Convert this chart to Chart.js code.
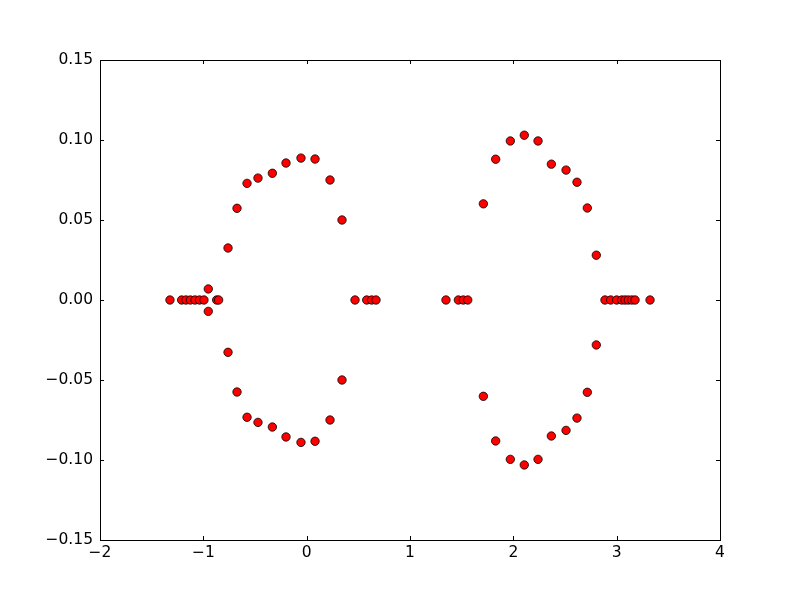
<!DOCTYPE html>
<html>
<head>
<meta charset="utf-8">
<script src="https://cdn.jsdelivr.net/npm/chart.js@4"></script>
<style>
html,body{margin:0;padding:0;background:#fff;}
#wrap{width:800px;height:600px;}
</style>
</head>
<body>
<div id="wrap"><canvas id="c" width="800" height="600"></canvas></div>
<script>
const xValues = [
  -1.323, -1.210, -1.168, -1.125, -1.081, -1.037, -0.994, -0.871, -0.852,
  -0.952, -0.952,
  -0.761, -0.674, -0.577, -0.471, -0.332, -0.200, -0.055, 0.081, 0.226, 0.342,
  -0.761, -0.674, -0.577, -0.471, -0.332, -0.200, -0.055, 0.081, 0.226, 0.342,
  0.468, 0.581, 0.629, 0.671,
  1.348, 1.468, 1.516, 1.559,
  1.710, 1.829, 1.971, 2.106, 2.239, 2.368, 2.510, 2.616, 2.716, 2.803,
  1.710, 1.829, 1.971, 2.106, 2.239, 2.368, 2.510, 2.616, 2.716, 2.803,
  2.887, 2.942, 3.000, 3.049, 3.081, 3.113, 3.146, 3.178, 3.323
];
const yValues = [
  0, 0, 0, 0, 0, 0, 0, 0, 0,
  0.0069, -0.0071,
  0.0325, 0.0573, 0.0729, 0.0762, 0.0792, 0.0856, 0.0887, 0.0881, 0.0750, 0.0500,
  -0.0327, -0.0575, -0.0733, -0.0765, -0.0794, -0.0856, -0.0890, -0.0883, -0.0750, -0.0500,
  0, 0, 0, 0,
  0, 0, 0, 0,
  0.0601, 0.0880, 0.0994, 0.1030, 0.0994, 0.0849, 0.0812, 0.0736, 0.0575, 0.0280,
  -0.0602, -0.0881, -0.0996, -0.1031, -0.0996, -0.0850, -0.0815, -0.0738, -0.0577, -0.0281,
  0, 0, 0, 0, 0, 0, 0, 0, 0
];
const xTicks = [-2, -1, 0, 1, 2, 3, 4];
const yTicks = [-0.15, -0.10, -0.05, 0.00, 0.05, 0.10, 0.15];

const points = xValues.map((x, i) => ({x: x, y: yValues[i]}));
const fmt = (v, d) => {
  const s = Math.abs(v).toFixed(d);
  return (v < -1e-9 ? '\u2212' : '') + s;
};

const framePlugin = {
  id: 'frame',
  afterDraw(chart) {
    const ctx = chart.ctx;
    const a = chart.chartArea;
    const xs = chart.scales.x, ys = chart.scales.y;
    ctx.save();
    ctx.strokeStyle = '#000';
    ctx.lineWidth = 1;
    ctx.beginPath();
    xTicks.forEach(t => {
      const px = Math.round(xs.getPixelForValue(t)) + 0.5;
      ctx.moveTo(px, a.bottom); ctx.lineTo(px, a.bottom - 4);
      ctx.moveTo(px, a.top); ctx.lineTo(px, a.top + 4);
    });
    yTicks.forEach(t => {
      const py = Math.round(ys.getPixelForValue(t)) + 0.5;
      ctx.moveTo(a.left, py); ctx.lineTo(a.left + 4, py);
      ctx.moveTo(a.right, py); ctx.lineTo(a.right - 4, py);
    });
    ctx.stroke();
    ctx.strokeRect(Math.round(a.left) + 0.5, Math.round(a.top) + 0.5,
                   Math.round(a.right - a.left), Math.round(a.bottom - a.top));
    ctx.restore();
  }
};

new Chart(document.getElementById('c'), {
  type: 'scatter',
  data: {
    datasets: [{
      data: points,
      backgroundColor: '#ff0000',
      borderColor: '#000000',
      borderWidth: 0.8,
      pointRadius: 4.2,
      pointHoverRadius: 4.2
    }]
  },
  options: {
    responsive: false,
    animation: false,
    events: [],
    layout: {padding: {left: 0, top: 60, right: 80, bottom: 0}},
    plugins: {legend: {display: false}, tooltip: {enabled: false}},
    scales: {
      x: {
        type: 'linear',
        min: -2, max: 4,
        afterBuildTicks: s => { s.ticks = xTicks.map(v => ({value: v})); },
        afterFit: s => { s.height = 60; },
        grid: {display: false, drawTicks: false},
        border: {display: false},
        ticks: {
          padding: 4,
          color: '#000',
          font: {family: 'DejaVu Sans', size: 15.5},
          maxRotation: 0,
          callback: v => fmt(v, 0)
        }
      },
      y: {
        type: 'linear',
        min: -0.15, max: 0.15,
        afterBuildTicks: s => { s.ticks = yTicks.map(v => ({value: v})); },
        afterFit: s => { s.width = 100; },
        grid: {display: false, drawTicks: false},
        border: {display: false},
        ticks: {
          padding: 7,
          color: '#000',
          font: {family: 'DejaVu Sans', size: 15.5},
          callback: v => fmt(v, 2)
        }
      }
    }
  },
  plugins: [framePlugin]
});
</script>
</body>
</html>
